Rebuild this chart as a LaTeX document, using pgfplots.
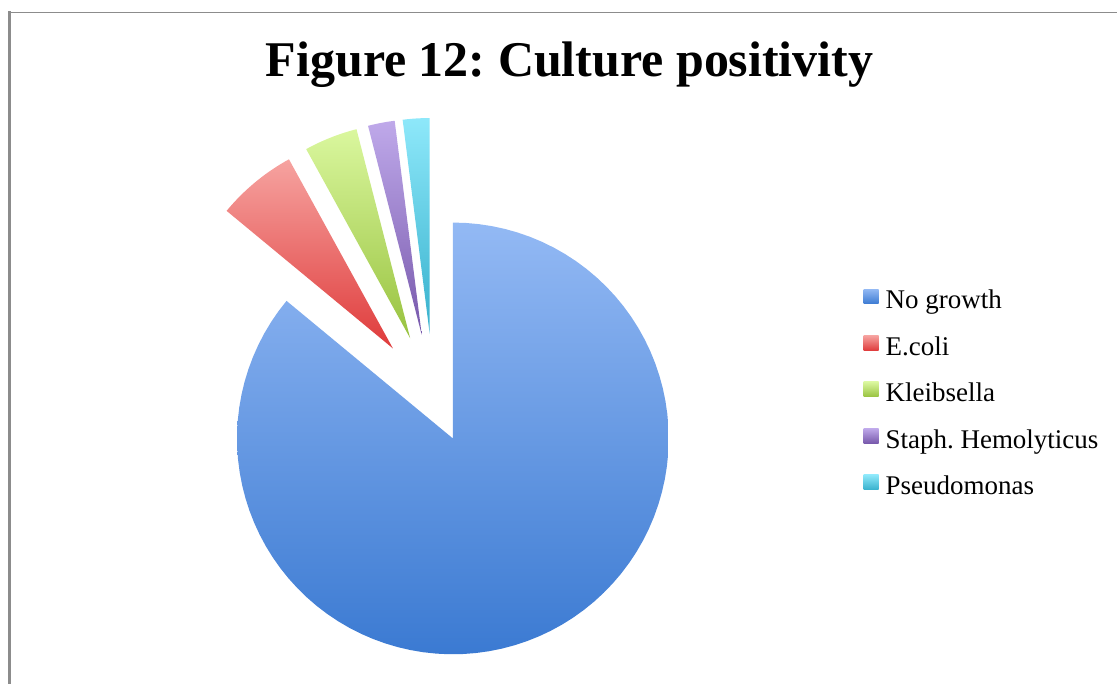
\documentclass[border=0pt]{standalone}
\usepackage{pgfplots}
\pgfplotsset{compat=1.18}
\usepackage{fontspec}
\setmainfont{Liberation Serif}
\frenchspacing

\definecolor{blueT}{HTML}{93B9F4}\definecolor{blueB}{HTML}{3B7AD2}
\definecolor{redT}{HTML}{F6A3A0}\definecolor{redB}{HTML}{DF3B3B}
\definecolor{greenT}{HTML}{DAF79E}\definecolor{greenB}{HTML}{98C23F}
\definecolor{purpT}{HTML}{BFA9EA}\definecolor{purpB}{HTML}{7758AB}
\definecolor{cyanT}{HTML}{8EE8FA}\definecolor{cyanB}{HTML}{36B0CC}
\definecolor{frame}{HTML}{8C8C8C}

% data: number of samples per culture result
\def\nA{43}% No growth
\def\nB{3}% E.coli
\def\nC{2}% Kleibsella
\def\nD{1}% Staph. Hemolyticus
\def\nE{1}% Pseudomonas

% pie geometry (clockwise from 12 o'clock)
\def\cx{434}\def\cy{286}\def\R{216}
\pgfmathsetmacro\tot{\nA+\nB+\nC+\nD+\nE}
\pgfmathsetmacro\aA{0}\pgfmathsetmacro\bA{360*\nA/\tot}
\pgfmathsetmacro\aB{\bA}\pgfmathsetmacro\bB{\aB+360*\nB/\tot}
\pgfmathsetmacro\aC{\bB}\pgfmathsetmacro\bC{\aC+360*\nC/\tot}
\pgfmathsetmacro\aD{\bC}\pgfmathsetmacro\bD{\aD+360*\nD/\tot}
\pgfmathsetmacro\aE{\bD}\pgfmathsetmacro\bE{360}
\pgfmathsetmacro\xA{\cx+45*sin((\aA+\bA)/2)}\pgfmathsetmacro\yA{\cy+45*cos((\aA+\bA)/2)}
\pgfmathsetmacro\xB{\cx+64*sin((\aB+\bB)/2)}\pgfmathsetmacro\yB{\cy+64*cos((\aB+\bB)/2)}
\pgfmathsetmacro\xC{\cx+64*sin((\aC+\bC)/2)}\pgfmathsetmacro\yC{\cy+64*cos((\aC+\bC)/2)}
\pgfmathsetmacro\xD{\cx+64*sin((\aD+\bD)/2)}\pgfmathsetmacro\yD{\cy+64*cos((\aD+\bD)/2)}
\pgfmathsetmacro\xE{\cx+64*sin((\aE+\bE)/2)}\pgfmathsetmacro\yE{\cy+64*cos((\aE+\bE)/2)}

\begin{document}
\begin{tikzpicture}
\begin{axis}[
  scale only axis, width=1118pt, height=684pt,
  xmin=0, xmax=1118, ymin=0, ymax=684,
  hide axis, clip=false,
  legend style={at={(axis cs:864,395)}, anchor=north west, draw=none,
    inner sep=0pt, column sep=7pt, row sep=19.5pt,
    font=\fontsize{27}{30}\selectfont,
    nodes={inner sep=0pt, text height=19pt, text depth=7pt}},
  legend cell align=left,
  legend image code/.code={\path[#1,draw=none] (0pt,-1pt) rectangle (15pt,14pt);},
  every axis plot/.append style={draw=none, samples=90, variable=\t},
]
\path (rel axis cs:0,0) rectangle (rel axis cs:1,1);
\addplot[top color=blueT, bottom color=blueB, domain=\aA:\bA]
  ({\xA+\R*sin(\t)},{\yA+\R*cos(\t)}) -- (axis cs:\xA,\yA) -- cycle;
\addlegendentry{No growth}
\addplot[top color=redT, bottom color=redB, domain=\aB:\bB]
  ({\xB+\R*sin(\t)},{\yB+\R*cos(\t)}) -- (axis cs:\xB,\yB) -- cycle;
\addlegendentry{E.coli}
\addplot[top color=greenT, bottom color=greenB, domain=\aC:\bC]
  ({\xC+\R*sin(\t)},{\yC+\R*cos(\t)}) -- (axis cs:\xC,\yC) -- cycle;
\addlegendentry{Kleibsella}
\addplot[top color=purpT, bottom color=purpB, domain=\aD:\bD]
  ({\xD+\R*sin(\t)},{\yD+\R*cos(\t)}) -- (axis cs:\xD,\yD) -- cycle;
\addlegendentry{Staph. Hemolyticus}
\addplot[top color=cyanT, bottom color=cyanB, domain=\aE:\bE]
  ({\xE+\R*sin(\t)},{\yE+\R*cos(\t)}) -- (axis cs:\xE,\yE) -- cycle;
\addlegendentry{Pseudomonas}

\draw[frame, line width=3pt] (axis cs:9.5,0) -- (axis cs:9.5,672.5);
\draw[frame, line width=1.5pt] (axis cs:8,671.5) -- (axis cs:1118,671.5);
\node[anchor=base, font=\bfseries\fontsize{50}{60}\selectfont] at (axis cs:570,607) {Figure 12: Culture positivity};
\end{axis}
\end{tikzpicture}
\end{document}
